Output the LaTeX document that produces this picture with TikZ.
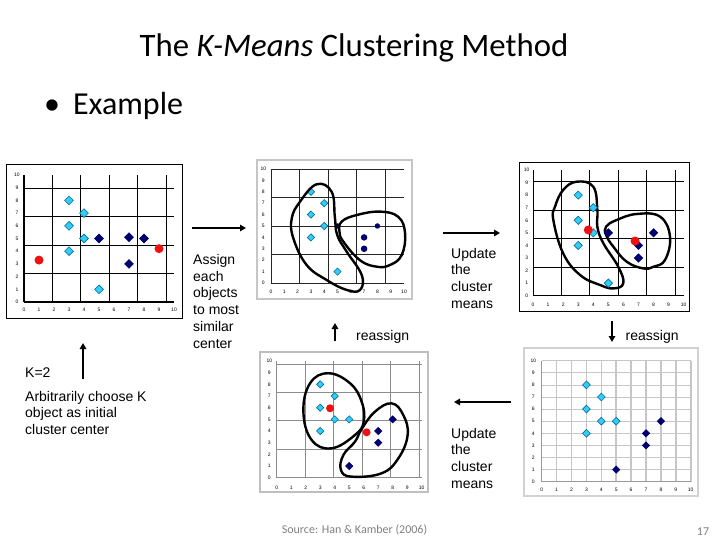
\documentclass[tikz,border=0pt]{standalone}
\usepackage{fontspec}
\setmainfont{Liberation Sans}
\newfontfamily\calfont{Carlito}
\usetikzlibrary{shapes.geometric,arrows.meta}
\definecolor{cyanpt}{HTML}{33CCFF}
\definecolor{tealol}{HTML}{006E8C}
\definecolor{navypt}{HTML}{000070}
\definecolor{redpt}{HTML}{F01010}
\definecolor{srcgray}{HTML}{808080}
\tikzset{
 cyd/.style={diamond, fill=cyanpt, draw=tealol, line width=0.6pt, inner sep=0pt, minimum size=#1},
 cyd/.default=9pt,
 nvd/.style={diamond, fill=navypt, draw=navypt, line width=0.6pt, inner sep=0pt, minimum size=#1},
 nvd/.default=9pt,
 nvc/.style={circle, fill=navypt, inner sep=0pt, minimum size=#1},
 nvc/.default=6pt,
 rdc/.style={circle, fill=redpt, inner sep=0pt, minimum size=#1},
 rdc/.default=8pt,
 tl/.style={font=\fontsize{5}{5}\selectfont, inner sep=0pt},
 blob/.style={line width=2.4pt, black},
 arr/.style={line width=2pt, -{Triangle[length=6pt,width=6.5pt]}},
 body/.style={font=\fontsize{14}{16.8}\selectfont, align=left, anchor=north west, inner sep=0pt},
}
\begin{document}
\begin{tikzpicture}[x=1pt,y=-1pt]
\useasboundingbox[fill=white] (0,0) rectangle (720,540);

% title
\node[font=\calfont\fontsize{32.8}{36}\selectfont, anchor=base] (title) at (354,57) {The \textit{K-Means} Clustering Method};
\node[font=\calfont\fontsize{32}{36}\selectfont, anchor=base west, inner sep=0pt] (example) at (44,115) {\textbullet\hspace{13pt}Example};

% ---------- plot 1 ----------
\draw[black, line width=1pt] (6,165) rectangle (182,318);
\begin{scope}[shift={(24,302)}, x=15pt, y=12.7pt]
 \draw[line width=1.1pt] (0,0) grid (10,10);
 \foreach \i in {0,...,10}{\node[tl] (p1x\i) at (\i,-0.63) {\i}; \node[tl] (p1y\i) at (-0.47,\i) {\i};}
 \foreach \p [count=\k] in {(3,8),(4,7),(3,6),(4,5),(3,4),(5,1)} \node[cyd] (p1c\k) at \p {};
 \foreach \p [count=\k] in {(5,5),(7,5.1),(8,5),(7,3)} \node[nvd] (p1n\k) at \p {};
 \node[rdc=9pt] (p1r1) at (1,3.3) {};
 \node[rdc=9pt] (p1r2) at (9,4.2) {};
\end{scope}

% ---------- plot 2 ----------
\draw[gray!45, line width=1.5pt] (257,160) rectangle (412,299);
\begin{scope}[shift={(271,283)}, x=13.3pt, y=11.4pt]
 \draw[black!85, line width=0.6pt] (0,0) grid (10,10);
 \foreach \i in {0,...,10}{\node[tl] (p2x\i) at (\i,-0.76) {\i}; \node[tl] (p2y\i) at (-0.58,\i) {\i};}
 \foreach \p [count=\k] in {(3,8),(4,7),(3,6),(4,5),(3,4),(5,1)} \node[cyd=7.5pt] (p2c\k) at \p {};
 \node[nvc=5.5pt] (p2n1) at (5,5) {};
 \node[nvc=6.5pt] (p2n2) at (7,4) {};
 \node[nvc=6.5pt] (p2n3) at (7,3) {};
 \node[nvc=5.5pt] (p2n4) at (8,5) {};
 \draw[blob] plot[smooth cycle, tension=0.7] coordinates {(3.43,8.66) (4.56,8.0) (4.8,5.8) (4.98,4.2) (5.69,2.75) (6.82,0.7) (6.69,-0.61) (5.69,-0.61) (4.19,0.26) (2.68,1.58) (1.68,3.92) (1.56,5.67) (2.18,7.13)};
 \draw[blob] plot[smooth cycle, tension=0.7] coordinates {(5.31,5.38) (6.44,5.96) (8.2,6.26) (9.57,5.8) (10.08,4.36) (9.83,2.46) (8.95,1.58) (7.95,1.43) (6.69,2.0) (5.44,3.63) (5.15,4.5)};
\end{scope}

% ---------- plot 3 ----------
\draw[black, line width=1pt] (519,163) rectangle (689,311);
\begin{scope}[shift={(533,295.7)}, x=15.07pt, y=12.57pt]
 \draw[line width=1pt] (0,0) grid (10,10);
 \foreach \i in {0,...,10}{\node[tl] (p3x\i) at (\i,-0.74) {\i}; \node[tl] (p3y\i) at (-0.42,\i) {\i};}
 \draw[blob] plot[smooth cycle, tension=0.7] coordinates {(2.9,9.07) (4.0,8.67) (4.27,6.82) (4.27,5.49) (4.67,4.17) (5.66,2.3) (5.99,0.98) (5.33,0.58) (4.45,0.85) (3.12,1.65) (2.0,3.37) (1.35,6.02) (1.46,7.08) (2.0,8.41)};
 \draw[blob] plot[smooth cycle, tension=0.7] coordinates {(5.55,6.02) (6.88,6.5) (8.43,6.29) (9.09,4.7) (8.76,2.84) (7.98,2.3) (7.32,2.17) (6.22,2.7) (5.33,3.9) (4.85,4.82) (4.85,5.5)};
 \foreach \p [count=\k] in {(3,8),(4,7),(3,6),(4,5),(3,4),(5,1)} \node[cyd=8.5pt] (p3c\k) at \p {};
 \foreach \p [count=\k] in {(5,5),(7,4),(8,5),(7,3)} \node[nvd=8.5pt] (p3n\k) at \p {};
 \node[rdc=9pt] (p3r1) at (3.67,5.23) {};
 \node[rdc=9pt] (p3r2) at (6.77,4.35) {};
\end{scope}

% ---------- plot 4 ----------
\draw[gray!50, line width=1.5pt] (260,352) rectangle (428,492);
\begin{scope}[shift={(276.7,477.7)}, x=14.5pt, y=11.67pt]
 \draw[gray!90, line width=0.7pt] (0,0) grid (10,10);
 \foreach \i in {0,...,10}{\node[tl] (p4x\i) at (\i,-0.86) {\i}; \node[tl] (p4y\i) at (-0.51,\i) {\i};}
 \draw[blob] plot[smooth cycle, tension=0.7] coordinates {(3.56,8.95) (5.06,8.09) (5.86,6.51) (6.0,4.8) (5.4,3.66) (3.79,2.52) (2.41,3.23) (1.84,5.66) (2.3,8.09)};
 \draw[blob] plot[smooth cycle, tension=0.7] coordinates {(7.93,6.37) (8.73,5.37) (9.03,3.66) (8.39,1.66) (7.24,0.38) (5.17,0.09) (4.43,0.66) (4.6,1.95) (5.4,3.09) (5.86,4.17) (6.78,5.66)};
 \foreach \p [count=\k] in {(3,8),(4,7),(3,6),(4,5),(5,5),(3,4)} \node[cyd=7.5pt] (p4c\k) at \p {};
 \foreach \p [count=\k] in {(8,5),(7,4),(7,3),(5,1)} \node[nvd=7.5pt] (p4n\k) at \p {};
 \node[rdc=8pt] (p4r1) at (3.68,5.95) {};
 \node[rdc=8pt] (p4r2) at (6.2,3.89) {};
\end{scope}

% ---------- plot 5 ----------
\draw[gray!35, line width=1.5pt] (524,348) rectangle (698,496);
\begin{scope}[shift={(541.7,481.7)}, x=14.9pt, y=12.1pt]
 \foreach \i in {1,...,10}{\draw[gray!45, line width=1.6pt] (\i,0) -- (\i,10);}
 \foreach \i in {1,...,10}{\draw[gray!45, line width=0.7pt] (0,\i) -- (10,\i);}
 \draw[gray!80, line width=0.8pt] (0,10) -- (0,0) -- (10,0);
 \foreach \i in {0,...,10}{\node[tl] (p5x\i) at (\i,-0.68) {\i}; \node[tl] (p5y\i) at (-0.56,\i) {\i};}
 \foreach \p [count=\k] in {(3,8),(4,7),(3,6),(4,5),(5,5),(3,4)} \node[cyd=8pt] (p5c\k) at \p {};
 \foreach \p [count=\k] in {(8,5),(7,4),(7,3),(5,1)} \node[nvd=7.5pt] (p5n\k) at \p {};
\end{scope}

% ---------- texts ----------
\node[body] (assign) at (193,254) {Assign\\each\\objects\\to most\\similar\\center};
\node[body] (upd1) at (451,247.8) {Update\\the\\cluster\\means};
\node[body] (upd2) at (451,427.8) {Update\\the\\cluster\\means};
\node[font=\fontsize{14}{16.8}\selectfont, anchor=base west, inner sep=0pt] (reas1) at (356,340) {reassign};
\node[font=\fontsize{14}{16.8}\selectfont, anchor=base west, inner sep=0pt] (reas2) at (625.5,340) {reassign};
\node[font=\fontsize{14}{16.8}\selectfont, anchor=base west, inner sep=0pt] (k2) at (25,377) {K=2};
\node[body] (arb) at (25,390.8) {Arbitrarily choose K\\object as initial\\cluster center};
\node[font=\calfont\fontsize{12}{14}\selectfont, text=srcgray, anchor=base] (src) at (354.5,533) {Source: Han \& Kamber (2006)};
\node[font=\calfont\fontsize{12}{14}\selectfont, text=srcgray, anchor=base] (pg) at (703,535) {17};

% ---------- arrows ----------
\coordinate (a1s) at (192,228); \coordinate (a1e) at (246,228);
\coordinate (a2s) at (443,233); \coordinate (a2e) at (500,233);
\coordinate (a3s) at (612,321); \coordinate (a3e) at (612,342);
\coordinate (a4s) at (511,402); \coordinate (a4e) at (454,402);
\coordinate (a5s) at (335,341); \coordinate (a5e) at (335,323);
\coordinate (a6s) at (83,379); \coordinate (a6e) at (83,343);
\draw[arr] (a1s) -- (a1e);
\draw[arr] (a2s) -- (a2e);
\draw[arr] (a3s) -- (a3e);
\draw[arr] (a4s) -- (a4e);
\draw[arr] (a5s) -- (a5e);
\draw[arr] (a6s) -- (a6e);
\end{tikzpicture}
\end{document}
